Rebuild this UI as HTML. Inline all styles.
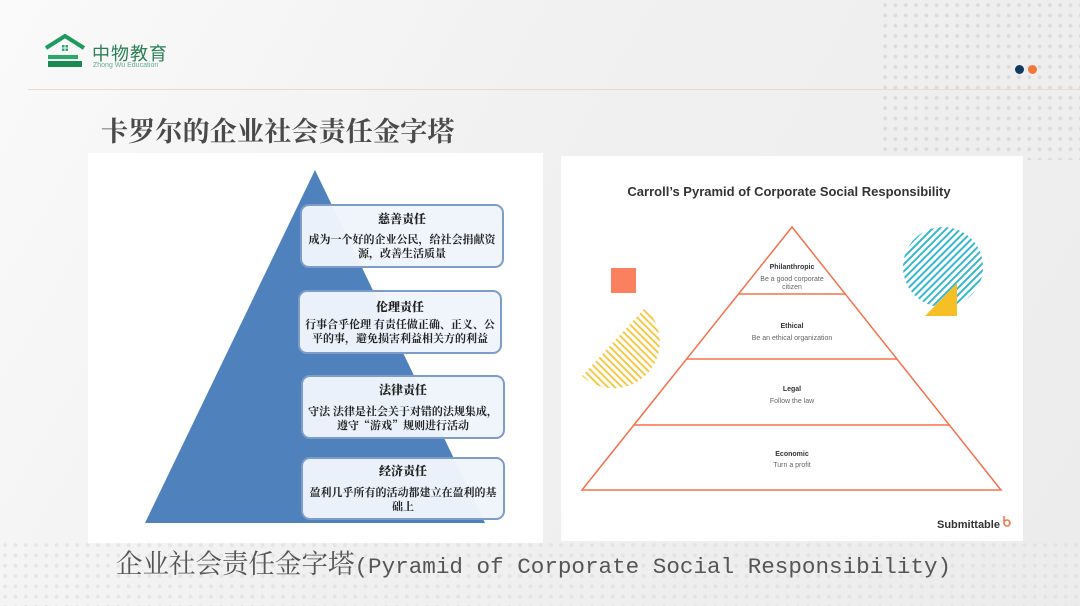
<!DOCTYPE html>
<html><head><meta charset="utf-8"><style>
html,body{margin:0;padding:0}
body{width:1080px;height:606px;position:relative;overflow:hidden;background:linear-gradient(120deg,#fafafa 0%,#f1f1f1 40%,#ececec 100%);font-family:"Liberation Sans","Noto Sans CJK SC",sans-serif}
.dots{position:absolute;background-image:radial-gradient(circle,#dcdcdc 1.8px,transparent 2.2px);background-size:10.3px 10.3px}
.abs{position:absolute}
.box{position:absolute;background:rgba(240,245,252,0.97);border:2px solid #7e9cc8;border-radius:9px;box-sizing:border-box;text-align:center;font-family:"Noto Serif CJK SC","Liberation Serif",serif;color:#222;font-size:11px;line-height:14px;font-weight:bold;padding-left:4px;padding-right:4px}
.box b{display:block;font-size:12px;margin-bottom:6px}
</style></head><body>
<div class="dots" style="left:880px;top:0;width:200px;height:160px"></div>
<div class="dots" style="left:0;top:540px;width:1080px;height:66px;opacity:.6"></div>
<svg class="abs" style="left:44px;top:34px" width="42" height="36" viewBox="0 0 42 36">
<path d="M2 14 L21 2 L40 14" fill="none" stroke="#1e9a5e" stroke-width="4"/>
<rect x="18" y="11" width="2.5" height="2.5" fill="#2aa868"/><rect x="21.5" y="11" width="2.5" height="2.5" fill="#2aa868"/><rect x="18" y="14.5" width="2.5" height="2.5" fill="#2aa868"/><rect x="21.5" y="14.5" width="2.5" height="2.5" fill="#2aa868"/>
<rect x="4" y="21" width="30" height="4" fill="#2aa868"/><rect x="4" y="27" width="34" height="6" fill="#1a8a52"/>
</svg>
<div class="abs" style="left:92px;top:40px;font-size:18px;color:#2a7f55;letter-spacing:1px">中物教育</div>
<div class="abs" style="left:93px;top:62px;font-size:7px;color:#6a9">Zhong Wu Education</div>
<div class="abs" style="left:28px;top:89px;width:1052px;height:1px;background:#f0d6cc"></div>
<div class="abs" style="left:1015px;top:65px;width:9px;height:9px;border-radius:50%;background:#123a5e"></div>
<div class="abs" style="left:1028px;top:65px;width:9px;height:9px;border-radius:50%;background:#f0783a"></div>
<div class="abs" style="left:101px;top:110px;font-family:'Noto Serif CJK SC',serif;font-weight:bold;font-size:27px;color:#4a4a4a;letter-spacing:0.2px">卡罗尔的企业社会责任金字塔</div>
<div class="abs" style="left:88px;top:153px;width:455px;height:390px;background:#fff"></div>
<svg class="abs" style="left:88px;top:153px" width="455" height="390"><polygon points="227,17 57,370 397,370" fill="#4f81bd"/></svg>
<div class="box" style="left:300px;top:204px;width:204px;height:64px;padding-top:6px"><b>慈善责任</b>成为一个好的企业公民，给社会捐献资源，改善生活质量</div>
<div class="box" style="left:298px;top:290px;width:204px;height:64px;padding-top:8px"><b style="margin-bottom:3px">伦理责任</b>行事合乎伦理 有责任做正确、正义、公平的事，避免损害利益相关方的利益</div>
<div class="box" style="left:301px;top:375px;width:204px;height:64px;padding-top:6px"><b style="margin-bottom:7px">法律责任</b>守法 法律是社会关于对错的法规集成，遵守“游戏”规则进行活动</div>
<div class="box" style="left:301px;top:457px;width:204px;height:63px;padding-top:5px"><b style="margin-bottom:7px">经济责任</b>盈利几乎所有的活动都建立在盈利的基础上</div>
<div class="abs" style="left:561px;top:156px;width:462px;height:385px;background:#fff"></div>
<svg class="abs" style="left:0;top:0" width="1080" height="606">
<defs>
<pattern id="ys" width="5" height="5" patternUnits="userSpaceOnUse" patternTransform="rotate(-45)"><rect width="2" height="5" fill="#f7c948"/></pattern>
<pattern id="ts" width="5" height="5" patternUnits="userSpaceOnUse" patternTransform="rotate(45)"><rect width="2" height="5" fill="#38b8d0"/></pattern>
</defs>
<text x="789" y="196" text-anchor="middle" font-family="Liberation Sans" font-weight="bold" font-size="13" fill="#333">Carroll’s Pyramid of Corporate Social Responsibility</text>
<rect x="611" y="268" width="25" height="25" fill="#fb8060"/>
<path d="M645 308 A46 46 0 0 1 582 376 Z" fill="url(#ys)"/>
<circle cx="943" cy="267" r="40" fill="url(#ts)"/>
<polygon points="925,316 957,316 957,283" fill="#f6bf26"/>
<g stroke="#f5704a" stroke-width="1.5" fill="none">
<polygon points="792,227 582,490 1001,490"/>
<line x1="738.5" y1="294" x2="845.5" y2="294"/><line x1="686.6" y1="359" x2="897.4" y2="359"/><line x1="634" y1="425" x2="950" y2="425"/>
</g>
<g font-family="Liberation Sans" text-anchor="middle" font-size="7" fill="#666">
<text x="792" y="269" font-weight="bold" fill="#333">Philanthropic</text><text x="792" y="281">Be a good corporate</text><text x="792" y="289">citizen</text>
<text x="792" y="328" font-weight="bold" fill="#333">Ethical</text><text x="792" y="340">Be an ethical organization</text>
<text x="792" y="391" font-weight="bold" fill="#333">Legal</text><text x="792" y="403">Follow the law</text>
<text x="792" y="456" font-weight="bold" fill="#333">Economic</text><text x="792" y="467">Turn a profit</text>
</g>
<text x="937" y="528" font-family="Liberation Sans" font-weight="bold" font-size="11" fill="#333">Submittable</text>
<path d="M1004 516 v7 a3 3 0 0 0 6 0 a3 3 0 0 0 -6 0" fill="none" stroke="#f5704a" stroke-width="1.5"/>
</svg>
<div class="abs" style="left:116px;top:542px;white-space:nowrap;color:#555;font-family:'Liberation Mono','Noto Serif CJK SC',monospace;font-size:22.6px"><span style="font-family:'Noto Serif CJK SC',serif;font-size:26.5px">企业社会责任金字塔</span>(Pyramid of Corporate Social Responsibility)</div>
</body></html>
